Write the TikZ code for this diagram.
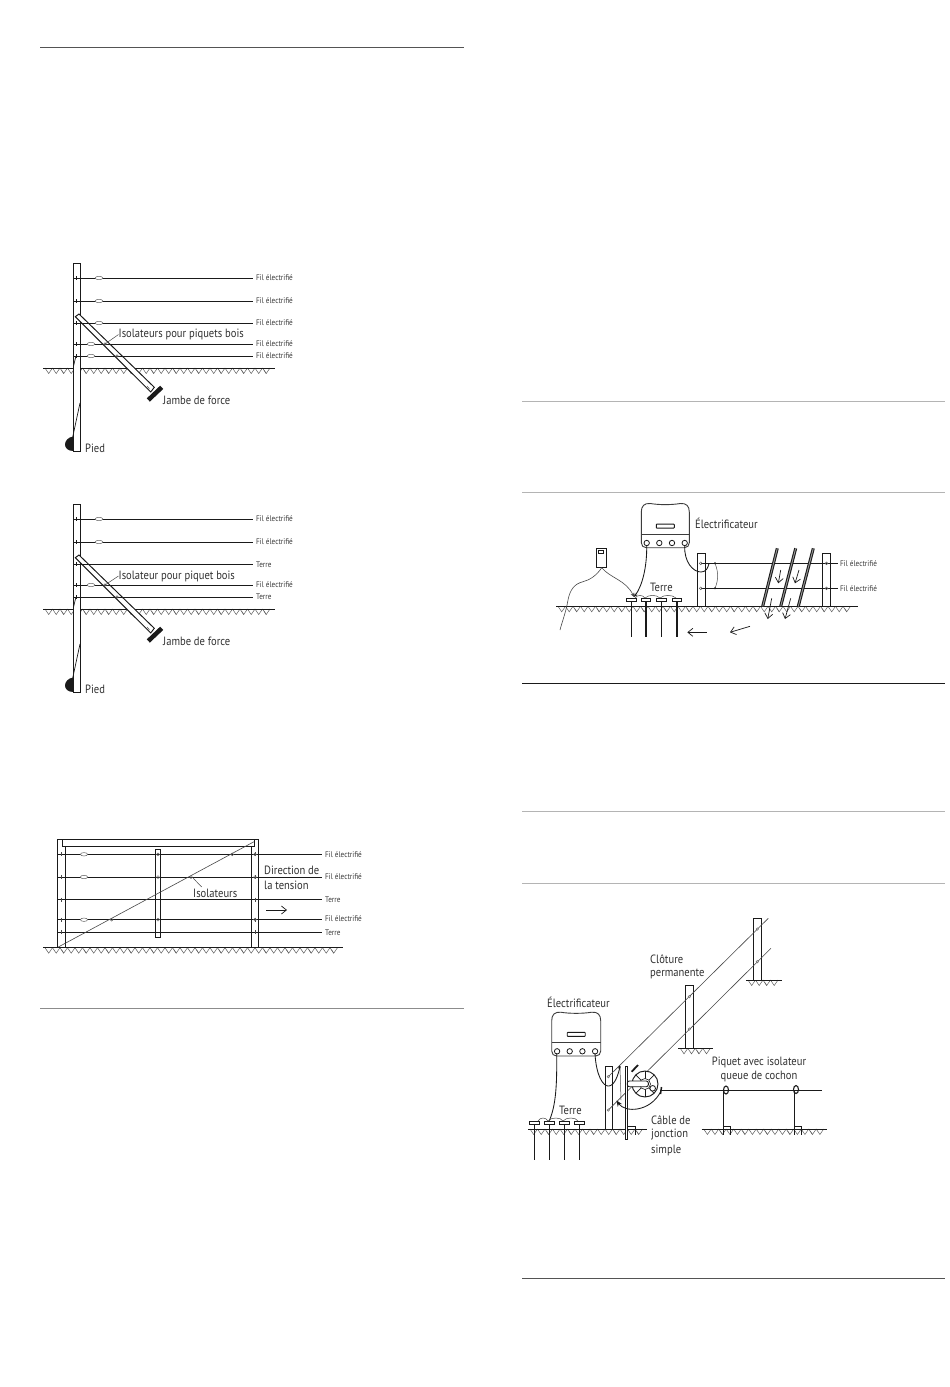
\documentclass[tikz,border=0pt]{standalone}
\usepackage{fontspec}
\setmainfont[FakeStretch=0.88]{PT Sans}
\usetikzlibrary{arrows.meta}
\definecolor{ink}{HTML}{1A1A1A}
\definecolor{rulegrey}{HTML}{B4B4B4}
\tikzset{
  wire/.style={draw=ink,line width=0.85pt},
  thin wire/.style={draw=ink!80,line width=0.5pt},
  postbox/.style={draw=ink,line width=0.95pt,fill=white},
  small/.style={inner sep=0pt,anchor=west,text=ink!85,font=\fontsize{8.2}{9}\selectfont},
  big/.style={inner sep=0pt,anchor=west,text=ink!90,font=\fontsize{12}{13}\selectfont},
  centred/.style={big,anchor=center},
  rule dark/.style={draw=ink!75,line width=0.9pt},
  rule light/.style={draw=rulegrey,line width=0.9pt},
  oval/.style={draw=ink!70,line width=0.5pt,fill=white},
  arrowthin/.style={draw=ink,line width=0.7pt,-{Straight Barb[length=5pt,width=8pt]}}
}
\newcommand{\groundline}[3]{%
  \pgfmathsetmacro\gA{#1+2}\pgfmathsetmacro\gB{#1+9.5}\pgfmathsetmacro\gC{#2-8}%
  \foreach \gx [count=\gi] in {\gA,\gB,...,\gC}{%
    \draw[draw=ink!70,line width=0.5pt] (\gx,#3) -- ({\gx+3.7},{#3+5.5}) -- ({\gx+7.5},#3);
    \pgfmathparse{int(mod(\gi,3))}%
    \ifnum\pgfmathresult=0 \draw[draw=ink!70,line width=0.5pt] ({\gx+3.7},{#3+5.5}) -- ({\gx+1.5},{#3+2});\fi
  }%
  \draw[wire] (#1,#3) -- (#2,#3);
}
\newcommand{\fil}[2]{\node[small] at (#1,#2) {Fil électrifié};}
\newcommand{\terre}[2]{\node[small] at (#1,#2) {Terre};}
\newcommand{\polepanel}{%
  \groundline{43}{275}{368}
  \draw[postbox] (73.5,263) rectangle (80,451);
  \fill[ink] (73.5,436.5) .. controls (68,437) and (65,441) .. (65,444.5) .. controls (65,448) and (68,451) .. (73.5,451) -- cycle;
  \draw[wire,line width=0.7pt] (72.7,437) -- (80,403) (73.3,367) -- (75.7,357);
  \draw[postbox] (75.3,316.7) -- (79,314) -- (154.3,387.3) -- (150.7,392) -- cycle;
  \draw[ink,line width=4.5pt] (148.3,400) -- (161.7,387.3);
  \draw[thin wire] (147,386) -- (149.5,389);
  \foreach \wy in {278,301,323,344,356}{\draw[wire] (73,\wy) -- (253,\wy); \draw[wire,line width=0.7pt] (76,{\wy-2}) -- (76,{\wy+2});}
  \draw[oval,fill=none] (105,344) circle[radius=1.3pt];
  \draw[oval,fill=none] (117,356) circle[radius=1.3pt];
}
\newcommand{\stake}[4]{% x, head y, bottom y, thickness
  \draw[ink,line width=#4] (#1,#2) -- (#1,#3);
  \draw[postbox,line width=0.7pt] ({#1-4.7},#2) rectangle ({#1+4.7},{#2+3.2});
}
\newcommand{\energiser}[4]{% left, right, top, bottom
  \pgfmathsetmacro\eDiv{#4-13.6}\pgfmathsetmacro\eMid{(#1+#2)/2}
  \draw[ink!85,line width=0.9pt,fill=white] (#1,{#3+9}) .. controls (#1,{#3+3}) and ({#1+3},#3) .. ({#1+9},{#3+0.5}) .. controls ({#1+18},{#3+2}) and ({#2-18},{#3+2}) .. ({#2-9},{#3+0.5}) .. controls ({#2-3},#3) and (#2,{#3+3}) .. (#2,{#3+9}) -- (#2,{#4-5}) .. controls (#2,{#4-2}) and ({#2-2},#4) .. ({#2-5},#4) -- ({#1+5},#4) .. controls ({#1+2},#4) and (#1,{#4-2}) .. (#1,{#4-5}) -- cycle;
  \draw[ink!85,line width=0.7pt] (#1,\eDiv) -- (#2,\eDiv);
  \draw[ink,line width=0.9pt,fill=white,rounded corners=0.6pt] ({\eMid-9},{\eDiv-10}) rectangle ({\eMid+9},{\eDiv-6});
  \foreach \ei in {5.4,18,30.7,43.4}{\draw[ink,line width=0.8pt,fill=white] ({#1+\ei},{#4-4.7}) circle[radius=2.7pt];}
}
\begin{document}
\begin{tikzpicture}[x=1pt,y=-1pt,line cap=butt]
\useasboundingbox (0,0) rectangle (950,1387);
\fill[white] (0,0) rectangle (950,1387);
% page rules
\draw[rule dark] (40,47) -- (464,47);
\draw[rule light,draw=ink!50] (40,1008) -- (464,1008);
\draw[rule light] (522,401) -- (945,401);
\draw[rule light] (522,492) -- (945,492);
\draw[rule dark,draw=ink] (522,683) -- (945,683);
\draw[rule light] (522,811) -- (945,811);
\draw[rule light] (522,883) -- (945,883);
\draw[rule dark] (522,1278) -- (945,1278);

% panel 1
\polepanel
\foreach \ox/\oy in {99/278,99/301,99/323,91/344,91/356}{\draw[oval] (\ox,\oy) ellipse[x radius=3.8pt,y radius=1.7pt];}
\fil{256}{278}\fil{256}{301}\fil{256}{323}\fil{256}{344}\fil{256}{356}
\node[big] (isoA) at (118.5,334.5) {Isolateurs pour piquets bois};
\coordinate (isoAend) at (105,344);
\draw[thin wire] (isoA.west) -- (isoAend);
\node[big] (jambeA) at (163,400) {Jambe de force};
\node[big] (piedA) at (85,448) {Pied};

% panel 2
\begin{scope}[yshift=-241pt]
\polepanel
\foreach \ox/\oy in {99/278,99/301,91/344}{\draw[oval] (\ox,\oy) ellipse[x radius=3.8pt,y radius=1.7pt];}
\fil{256}{278}\fil{256}{301}\terre{256}{324}\fil{256}{344}\terre{256}{356}
\node[big] (isoB) at (118.5,335) {Isolateur pour piquet bois};
\coordinate (isoBend) at (105,344);
\draw[thin wire] (isoB.west) -- (isoBend);
\node[big] (jambeB) at (163,400) {Jambe de force};
\node[big] (piedB) at (85,448) {Pied};
\end{scope}

% panel 3
\groundline{43}{343}{947.7}
\draw[postbox] (57.3,839.3) rectangle (65.3,947);
\draw[postbox] (251.3,839.3) rectangle (258.7,947);
\foreach \wy in {854.3,877,899.7,919.7,932.3}{\draw[wire] (57,\wy) -- (321.7,\wy); \draw[thin wire] (61.3,{\wy-2}) -- (61.3,{\wy+2}) (255,{\wy-2}) -- (255,{\wy+2});}
\draw[postbox,fill=none] (155.7,849.3) rectangle (160.3,937.7);
\draw[postbox] (62.3,839.3) rectangle (254,846.7);
\draw[thin wire,line width=0.6pt] (58.3,947) -- (254,841.7);
\foreach \oy in {854.3,877,919.7}{\draw[oval] (84,\oy) ellipse[x radius=3.6pt,y radius=1.7pt];
  \draw[oval,fill=none] (158,\oy) circle[radius=1.4pt];
  \draw[oval,fill=none] (255,\oy) circle[radius=1.4pt];}
\foreach \ox/\oy in {232.3/854.3,191/877,111.7/919.7}{\draw[oval,fill=none] (\ox,\oy) circle[radius=1.4pt];}
\fil{325}{854.3}\fil{325}{876.5}\terre{325}{899.7}\fil{325}{919}\terre{325}{932.3}
\node[big] (dirA) at (264,870.5) {Direction de};
\node[big] (dirB) at (264,885.5) {la tension};
\coordinate (dirS) at (266,910); \coordinate (dirE) at (287,910);
\draw[arrowthin] (dirS) -- (dirE);
\node[big] (isoC) at (193,893) {Isolateurs};
\coordinate (isoCend) at (193.3,878.3);
\draw[thin wire] (201.7,887) -- (isoCend);

% panel 4
\groundline{556}{858}{606.3}
\draw[postbox] (697.3,553.3) rectangle (705,606.3);
\draw[postbox] (822.3,553.3) rectangle (830.7,606.3);
\foreach \wy in {563.3,588.3}{\draw[wire] (700.7,\wy) -- (838,\wy);
  \draw[oval,fill=none] (700.7,\wy) circle[radius=1.4pt];
  \draw[oval,fill=none] (826.5,\wy) circle[radius=1.4pt];}
\draw[thin wire] (715,563.3) .. controls (718.5,572) and (718.5,580) .. (715,588.3);
\foreach \wy in {563.3,588.3}{\fill[ink] (715,\wy) circle[radius=1.1pt];}
\foreach \bx/\tx in {762.7/777.3,780.7/795.7,798.3/813.3}{
  \draw[ink,line width=3pt] (\bx,606.3) -- (\tx,548.3);
  \draw[ink!45,line width=0.9pt] (\bx,606.3) -- (\tx,548.3);}
\draw[arrowthin] (780.7,570) -- (778.3,583.3);
\draw[arrowthin] (799,570) -- (795,583.3);
\draw[arrowthin] (771.7,598.3) -- (767.7,619);
\draw[arrowthin] (790.7,598.3) -- (785,619);
\energiser{641.3}{689.3}{503}{547.7}
\node[big] (elecA) at (695,523) {Électrificateur};
\draw[ink,line width=0.8pt,fill=white] (596.7,548.3) rectangle (606.3,567.7);
\draw[ink,line width=0.5pt] (598.7,550.7) rectangle (603.3,553.7);
\coordinate (devB) at (601.7,567.7);
\draw[thin wire,line width=0.6pt] (devB) .. controls (597,575) and (590,580) .. (583,581.7) .. controls (574,584) and (570,590) .. (568,600) .. controls (566,612) and (562,622) .. (560,630);
\draw[thin wire,line width=0.6pt,-{Stealth[length=4pt,width=3.5pt]}] (devB) .. controls (610,578) and (626,580) .. (634,597);
\draw[wire,-{Stealth[length=4pt,width=3.5pt]}] (646.7,545.7) .. controls (647,568) and (642,586) .. (634,597);
\draw[wire] (684.7,545.7) .. controls (684,562) and (693,572) .. (701,572) .. controls (706,572) and (708,568) .. (709,563.3);
\foreach \sx in {631.3,646,661.3,677}{\stake{\sx}{598.3}{637.3}{1.6pt}}
\draw[thin wire] (635,598) .. controls (638,594.5) and (642,594.5) .. (645,598) .. controls (649,594.5) and (656,594.5) .. (660,598) .. controls (664,594.5) and (672,594.5) .. (676,598);
\node[big] (terreA) at (650,587) {Terre};
\coordinate (aAs) at (706.7,632.3); \coordinate (aAe) at (687.3,632.3);
\coordinate (aBs) at (750,626.3); \coordinate (aBe) at (730,632.3);
\draw[arrowthin] (aAs) -- (aAe);
\draw[arrowthin] (aBs) -- (aBe);
\fil{840}{563.3}\fil{840}{588.3}

% panel 5
\groundline{746}{781.7}{980}
\groundline{678.3}{712.7}{1048.3}
\groundline{528}{646.7}{1129}
\groundline{701.7}{826.7}{1129}
\draw[postbox] (685.3,985.3) rectangle (693.3,1048.3);
\draw[postbox] (753.3,918.3) rectangle (761.3,980);
\coordinate (upS) at (608.3,1076.7); \coordinate (upE) at (768.3,918.3);
\coordinate (loS) at (608.3,1110); \coordinate (loE) at (771,948.3);
\draw[postbox] (605.3,1066.7) rectangle (612.3,1129);
\draw[thin wire,line width=0.6pt] (upS) -- (upE);
\draw[thin wire,line width=0.6pt] (loS) -- (loE);
\foreach \ox/\oy in {689.3/996.7,689.3/1029,757.3/929,757.3/961.7,608.3/1076.7,608.3/1110}{\draw[oval,fill=white] (\ox,\oy) circle[radius=1.2pt];}
\draw[postbox] (625.3,1066.7) rectangle (627.7,1139.3);
\draw[ink,line width=0.7pt] (627.7,1126.7) -- (635,1126.7) -- (635,1135);
\draw[thin wire] (620,1067) -- (621,1100);
\energiser{551.7}{600.7}{1011.7}{1056}
\node[big] (elecB) at (547,1002) {Électrificateur};
\draw[wire] (556.7,1053) .. controls (557,1085) and (556,1105) .. (549.3,1120.7);
\draw[wire] (595,1053.3) .. controls (596,1075) and (603,1087) .. (609,1086) .. controls (615,1085) and (618,1075) .. (620,1067);
\foreach \sx in {534.3,549.3,564.3,579.3}{\stake{\sx}{1121}{1160}{0.9pt}}
\draw[thin wire] (538,1121) .. controls (540,1117) and (546,1117) .. (548,1121) .. controls (551,1117) and (561,1117) .. (563,1121) .. controls (566,1117) and (576,1117) .. (578,1121);
\node[big] (terreB) at (559,1110) {Terre};
% reel
\draw[ink,line width=0.95pt,fill=white] (645,1084) circle[radius=13pt];
\foreach \sx/\sy in {645/1071,636/1075,654/1075,636/1093,645/1097,654/1093}{\draw[ink,line width=0.7pt] (645,1084) -- (\sx,\sy);}
\draw[ink,line width=0.6pt,fill=white] (645,1084) circle[radius=5.5pt];
\draw[ink,line width=0.9pt,fill=white,rounded corners=2pt] (627.3,1081) rectangle (648.3,1086.7);
\draw[ink,line width=0.8pt,fill=white] (652.7,1088.3) circle[radius=2.8pt];
\draw[ink,line width=1.8pt] (631.7,1071.7) -- (638,1065);
\draw[ink,line width=1.6pt] (618.8,1068.5) -- (620,1066);
\draw[wire,{Stealth[length=6pt,width=5pt]}-] (616.5,1100.5) .. controls (625,1113) and (650,1112) .. (660.5,1092);
\draw[ink,line width=1.5pt] (660.5,1094) -- (661.5,1087);
\draw[wire] (660,1090.7) -- (821.7,1090.7);
\foreach \px in {723.3,794.3}{
  \draw[ink,line width=1.3pt] (\px,1090.7) -- (\px,1135);
  \draw[ink,line width=0.7pt] (\px,1126.7) -- ({\px+7.4},1126.7) -- ({\px+7.4},1135);
}
\draw[ink,line width=1.1pt,fill=none] (726,1090) ellipse[x radius=2.5pt,y radius=4pt];
\draw[ink,line width=1.1pt,fill=none] (796,1089.5) ellipse[x radius=2.5pt,y radius=4pt];
\node[big] (cloA) at (650,959) {Clôture};
\node[big] (cloB) at (650,973.5) {permanente};
\node[centred] (piqA) at (759,1062) {Piquet avec isolateur};
\node[centred] (piqB) at (759,1076.5) {queue de cochon};
\node[big] (cabA) at (651,1120.5) {Câble de};
\node[big] (cabB) at (651,1135) {jonction};
\node[big] (cabC) at (651,1150) {simple};
\end{tikzpicture}
\end{document}
